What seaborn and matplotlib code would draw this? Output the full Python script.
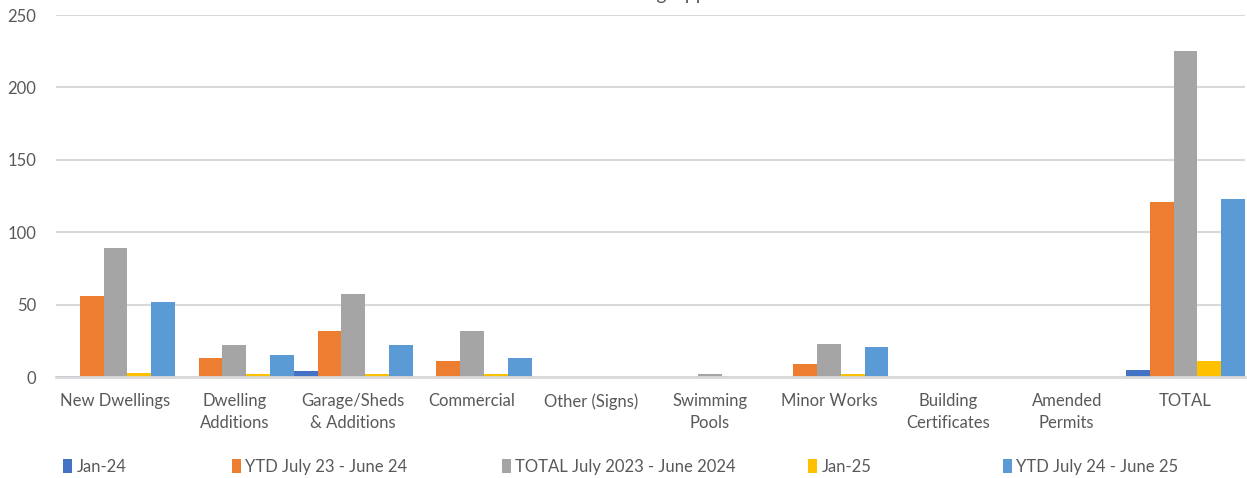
import matplotlib
matplotlib.use("Agg")
import matplotlib.pyplot as plt
from matplotlib.patches import Rectangle
import seaborn as sns
import pandas as pd

categories = ["New Dwellings", "Dwelling\nAdditions", "Garage/Sheds\n& Additions",
              "Commercial", "Other (Signs)", "Swimming\nPools", "Minor Works",
              "Building\nCertificates", "Amended\nPermits", "TOTAL"]
series_names = ["Jan-24", "YTD July 23 - June 24", "TOTAL July 2023 - June 2024",
                "Jan-25", "YTD July 24 - June 25"]
jan_24 = [1, 0, 4, 0, 0, 0, 0, 0, 0, 5]
ytd_23_24 = [56, 13, 32, 11, 0, 0, 9, 0, 0, 121]
total_23_24 = [89, 22, 57, 32, 0, 2, 23, 0, 0, 225]
jan_25 = [3, 2, 2, 2, 0, 0, 2, 0, 0, 11]
ytd_24_25 = [52, 15, 22, 13, 0, 0, 21, 0, 0, 123]
y_ticks = [0, 50, 100, 150, 200, 250]
colors = ["#4472C4", "#ED7D31", "#A5A5A5", "#FFC000", "#5B9BD5"]

rows = []
for name, vals in zip(series_names, [jan_24, ytd_23_24, total_23_24, jan_25, ytd_24_25]):
    for cat, v in zip(categories, vals):
        rows.append({"category": cat, "series": name, "value": v})
df = pd.DataFrame(rows)

sns.set_theme(style="white")
plt.rcParams["font.family"] = ["Lato", "DejaVu Sans"]
text_color = "#595959"

W, H = 1247, 478
fig = plt.figure(figsize=(W / 100, H / 100), dpi=100)
ax = fig.add_axes([56 / W, 1 - 377 / H, (1245 - 56) / W, (377 - 15) / H])

sns.barplot(data=df, x="category", y="value", hue="series", order=categories,
            hue_order=series_names, palette=colors, width=1.0, gap=0,
            saturation=1, edgecolor="none", linewidth=0, ax=ax, legend=False)

ax.set_xlim(-0.5, len(categories) - 0.5)
ax.set_ylim(0, 250)
ax.set_yticks(y_ticks)
ax.set_yticklabels([str(t) for t in y_ticks])
ax.yaxis.grid(True, color="#D9D9D9", linewidth=1.5)
ax.set_axisbelow(True)
for s in ["left", "right", "top"]:
    ax.spines[s].set_visible(False)
ax.spines["bottom"].set_color("#D9D9D9")
ax.spines["bottom"].set_linewidth(2)
ax.spines["bottom"].set_zorder(5)
ax.set_xlabel("")
ax.set_ylabel("")
ax.tick_params(axis="y", length=0, pad=14, labelsize=12, labelcolor=text_color)
ax.tick_params(axis="x", length=0, pad=11.5, labelsize=12, labelcolor=text_color)
for lbl in ax.get_xticklabels():
    lbl.set_linespacing(1.5)

# title sits at the very top edge of the canvas
fig.text(597 / W, 1.0, "Building Applications", ha="left", va="baseline",
         fontsize=14, color=text_color)

# legend entries laid out along the bottom
legend_x = [63, 232, 502, 808, 1003]
for name, col, x in zip(series_names, colors, legend_x):
    handle = Rectangle((0, 0), 1, 1, facecolor=col, edgecolor="none")
    fig.legend(handles=[handle], labels=[name], loc="center left",
               bbox_to_anchor=(x / W, 1 - 467 / H), frameon=False,
               borderpad=0, borderaxespad=0, handlelength=0.55, handleheight=0.9,
               handletextpad=0.25, fontsize=12, labelcolor=text_color)

fig.savefig("out.png", dpi=100, facecolor="white")
